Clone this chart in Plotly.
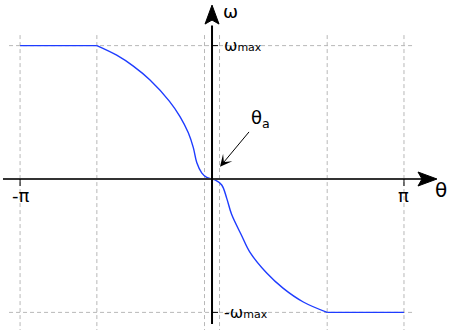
import math
import plotly.graph_objects as go

PI = math.pi

# ---- data ----
theta_flat_left = [-PI, -0.6 * PI]
omega_flat_left = [1.0, 1.0]

theta_curve = [-0.6 * PI, -1.560, -1.288, -1.015, -0.699, -0.524, -0.388, -0.306,
               -0.250, -0.169, -0.087, 0.0, 0.049, 0.159, 0.241, 0.322, 0.486,
               0.622, 0.895, 1.167, 1.494, 0.6 * PI]
omega_curve = [1.0, 0.928, 0.846, 0.742, 0.584, 0.468, 0.346, 0.235,
               0.123, 0.046, 0.012, 0.0, -0.007, -0.045, -0.145, -0.267, -0.425,
               -0.550, -0.705, -0.820, -0.922, -1.0]

theta_flat_right = [0.6 * PI, PI]
omega_flat_right = [-1.0, -1.0]

theta_a = 0.123
grid_theta = [-PI, -0.6 * PI, -theta_a, theta_a, 0.6 * PI, PI]
grid_omega = [1.0, -1.0]
x_tick_vals = [-PI, PI]
x_tick_text = ["-π", "π"]
y_tick_vals = [1.0, -1.0]
y_tick_text = ["ω<span style='font-size:11px'>max</span>",
               "-ω<span style='font-size:11px'>max</span>"]

# ---- figure ----
X_RANGE = [-3.470, 3.944]
Y_RANGE = [-1.132, 1.342]
BLUE = "rgb(30,60,255)"
GRID = "#b8b8b8"
FONT = "DejaVu Sans"

fig = go.Figure()
for tx, oy in [(theta_flat_left, omega_flat_left), (theta_curve, omega_curve),
               (theta_flat_right, omega_flat_right)]:
    fig.add_trace(go.Scatter(x=tx, y=oy, mode="lines",
                             line=dict(color=BLUE, width=1.4, shape="spline", smoothing=1.0),
                             hoverinfo="skip", showlegend=False))

shapes = []
# grid lines
for g in grid_theta:
    shapes.append(dict(type="line", xref="x", yref="y", x0=g, x1=g, y0=1.079, y1=-1.14,
                       line=dict(color=GRID, width=1, dash="4px,3px"), layer="below"))
for g in grid_omega:
    shapes.append(dict(type="line", xref="x", yref="y", x0=-3.322, x1=3.323, y0=g, y1=g,
                       line=dict(color=GRID, width=1, dash="4px,3px"), layer="below"))
# x axis line and arrowhead
shapes.append(dict(type="line", xref="x", yref="y", x0=-3.421, x1=3.50, y0=0, y1=0,
                   line=dict(color="#333333", width=2)))
shapes.append(dict(type="path", xref="x", yref="y", xsizemode="pixel", ysizemode="pixel",
                   xanchor=3.682, yanchor=0,
                   path="M0,0 L-19,7 L-15,0 L-19,-7 Z",
                   fillcolor="black", line=dict(color="black", width=1)))
# y axis line and arrowhead
shapes.append(dict(type="line", xref="x", yref="y", x0=0, x1=0, y0=-1.087, y1=1.15,
                   line=dict(color="black", width=2)))
shapes.append(dict(type="path", xref="x", yref="y", xsizemode="pixel", ysizemode="pixel",
                   xanchor=0, yanchor=1.304,
                   path="M0,0 L-7,-19 L0,-15 L7,-19 Z",
                   fillcolor="black", line=dict(color="black", width=1)))
# ticks
for v in x_tick_vals:
    shapes.append(dict(type="line", xref="x", yref="y", ysizemode="pixel", yanchor=0,
                       x0=v, x1=v, y0=0, y1=-7, line=dict(color="black", width=1)))
for v in y_tick_vals:
    shapes.append(dict(type="line", xref="x", yref="y", xsizemode="pixel", xanchor=0,
                       x0=0, x1=6, y0=v, y1=v, line=dict(color="black", width=1)))

annotations = []
for v, t in zip(x_tick_vals, x_tick_text):
    annotations.append(dict(x=v, y=-0.12, xref="x", yref="y", text=t, showarrow=False,
                            font=dict(family=FONT, size=18, color="black"),
                            xanchor="center", yanchor="middle"))
for v, t in zip(y_tick_vals, y_tick_text):
    annotations.append(dict(x=0.17, y=v, xref="x", yref="y", text=t, showarrow=False,
                            font=dict(family=FONT, size=16, color="black"),
                            xanchor="left", yanchor="middle"))
annotations.append(dict(x=0.295, y=Y_RANGE[1], xref="x", yref="y", text="ω", showarrow=False,
                        yanchor="top", borderpad=0,
                        font=dict(family=FONT, size=18, color="black")))
annotations.append(dict(x=3.748, y=-0.082, xref="x", yref="y", text="θ", showarrow=False,
                        font=dict(family=FONT, size=20, color="black")))
# theta_a label with its arrow pointing at the dead-zone edge
annotations.append(dict(x=0.131, y=0.092, xref="x", yref="y", text="θ<sub>a</sub>",
                        showarrow=True, ax=40, ay=-48, arrowhead=3, arrowsize=2,
                        arrowwidth=1, arrowcolor="black",
                        font=dict(family=FONT, size=18, color="black")))

fig.update_layout(
    width=453, height=330,
    margin=dict(l=0, r=0, t=0, b=0),
    paper_bgcolor="white", plot_bgcolor="white",
    xaxis=dict(range=X_RANGE, visible=False, fixedrange=True),
    yaxis=dict(range=Y_RANGE, visible=False, fixedrange=True),
    shapes=shapes, annotations=annotations,
)

fig.write_html("out.html", config={"displayModeBar": False})
